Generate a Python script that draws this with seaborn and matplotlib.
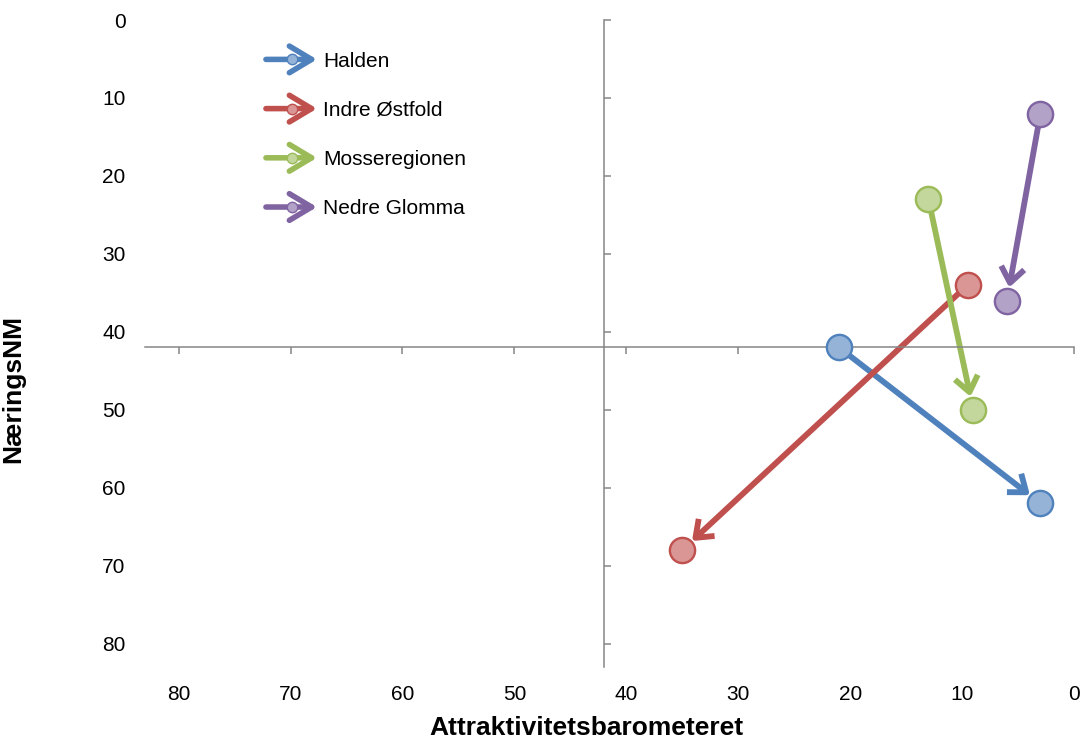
import seaborn as sns
import pandas as pd
import matplotlib.pyplot as plt
from matplotlib.legend_handler import HandlerBase
from matplotlib.patches import FancyArrowPatch
from matplotlib.lines import Line2D

regions = ["Halden", "Indre Østfold", "Mosseregionen", "Nedre Glomma"]
attr_start = [21, 9.5, 13, 3]
attr_end = [3, 35, 9, 6]
naer_start = [42, 34, 23, 12]
naer_end = [62, 68, 50, 36]

line_colors = ["#4F81BD", "#C0504D", "#9BBB59", "#8064A2"]
fill_colors = ["#95B3D7", "#D99694", "#C3D69B", "#B3A2C7"]

ticks = [0, 10, 20, 30, 40, 50, 60, 70, 80]
axis_max = 83
cross = 42

df = pd.DataFrame({"region": regions,
                   "x0": attr_start, "x1": attr_end,
                   "y0": naer_start, "y1": naer_end})

sns.set_theme(style="white")
plt.rcParams["font.family"] = ["Liberation Sans", "DejaVu Sans"]
plt.rcParams["text.color"] = "black"
plt.rcParams["axes.labelcolor"] = "black"

fig = plt.figure(figsize=(10.82, 7.4), dpi=100)
ax = fig.add_axes([145 / 1082, 1 - 667 / 740, 929 / 1082, 647 / 740])

for i, row in df.iterrows():
    ax.annotate("", xy=(row.x1, row.y1), xytext=(row.x0, row.y0),
                arrowprops=dict(arrowstyle="->,head_length=0.55,head_width=0.42",
                                mutation_scale=20, color=line_colors[i], lw=4.2,
                                shrinkA=0, shrinkB=9.5, capstyle="butt"),
                zorder=2)
    sns.scatterplot(x=[row.x0, row.x1], y=[row.y0, row.y1], color=fill_colors[i],
                    edgecolor=line_colors[i], linewidth=1.7, s=330, zorder=3,
                    ax=ax, legend=False)

ax.set_xlim(axis_max, 0)
ax.set_ylim(axis_max, 0)
ax.set_xticks(ticks)
ax.set_yticks(ticks)

# axis lines cross in the middle, like the original
for s in ["top", "right"]:
    ax.spines[s].set_visible(False)
ax.spines["left"].set_position(("data", cross))
ax.spines["bottom"].set_position(("data", cross))
for s in ["left", "bottom"]:
    ax.spines[s].set_color("#868686")
    ax.spines[s].set_linewidth(1.1)
ax.tick_params(axis="x", direction="out", length=5, width=1.1, color="#868686",
               labelbottom=False, bottom=True)
ax.tick_params(axis="y", direction="in", length=5, width=1.1, color="#868686",
               labelleft=False, left=True)
ax.set_xlabel("")
ax.set_ylabel("")

# tick labels sit on the outer edge
sec_x = ax.secondary_xaxis(0)
sec_y = ax.secondary_yaxis(0)
sec_x.set_xticks(ticks)
sec_y.set_yticks(ticks)
sec_x.spines["bottom"].set_visible(False)
sec_y.spines["left"].set_visible(False)
sec_x.tick_params(length=0, pad=13, labelsize=15, labelcolor="black")
sec_y.tick_params(length=0, pad=14, labelsize=15, labelcolor="black")
sec_x.set_xlabel("Attraktivitetsbarometeret", fontsize=19, fontweight="bold")
sec_y.set_ylabel("NæringsNM", fontsize=19, fontweight="bold")
sec_x.xaxis.set_label_coords(586 / 1082, 1 - 728 / 740, transform=fig.transFigure)
sec_y.yaxis.set_label_coords(13 / 1082, 1 - 389 / 740, transform=fig.transFigure)
sec_x.xaxis.label.set_va("center")
sec_y.yaxis.label.set_va("center")


class ArrowHandler(HandlerBase):
    def create_artists(self, legend, orig_handle, xdescent, ydescent,
                       width, height, fontsize, trans):
        y = height / 2 - ydescent
        x0 = -xdescent
        arrow = FancyArrowPatch((x0, y), (x0 + width, y),
                                arrowstyle="->,head_length=0.8,head_width=0.48",
                                mutation_scale=20, color=orig_handle.get_color(),
                                lw=4, shrinkA=0, shrinkB=0, transform=trans)
        dot = Line2D([x0 + width * 0.52], [y], marker="o", markersize=7.5,
                     markerfacecolor=orig_handle.get_markerfacecolor(),
                     markeredgecolor=orig_handle.get_color(), markeredgewidth=1,
                     linestyle="none", transform=trans)
        return [arrow, dot]


handles = [Line2D([], [], color=line_colors[i], marker="o",
                  markerfacecolor=fill_colors[i]) for i in range(len(regions))]
ax.legend(handles, regions, handler_map={Line2D: ArrowHandler()},
          loc="upper left", bbox_to_anchor=(0.11, 0.98), frameon=False,
          fontsize=15, handlelength=2.45, labelspacing=1.45, handletextpad=0.28)

plt.savefig("out.png", dpi=100)
